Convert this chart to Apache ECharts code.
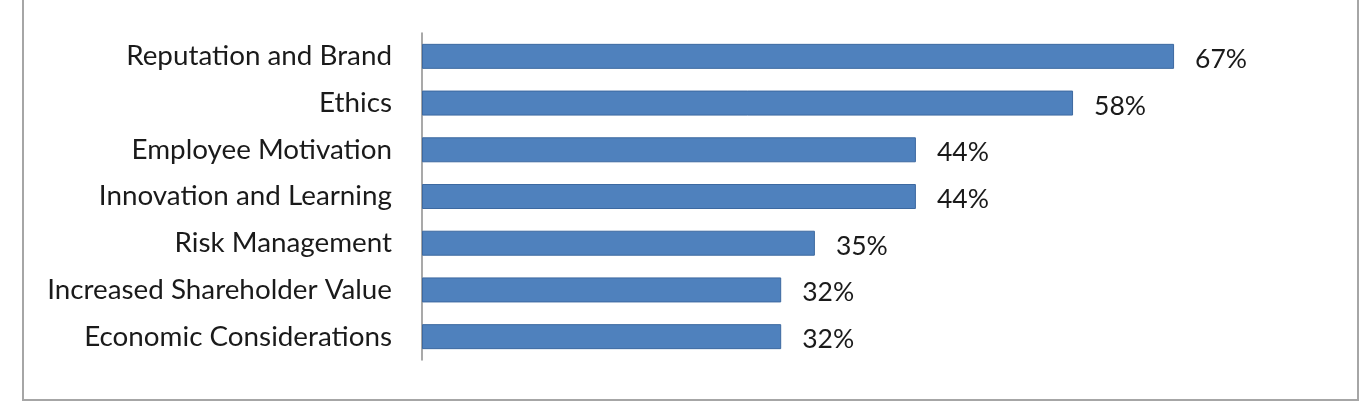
<!DOCTYPE html>
<html lang="en">
<head>
    <meta charset="utf-8">
    <title>Chart</title>
    <style>
        html, body { margin: 0; padding: 0; background: #fff; }
    </style>
</head>
<body>
<div id="main" style="width: 1370px;height: 405px"></div>

<script src="https://cdn.jsdelivr.net/npm/echarts@6/dist/echarts.min.js"></script>
<script type="text/javascript">
    // categories top to bottom
    var categories = ['Reputation and Brand', 'Ethics', 'Employee Motivation', 'Innovation and Learning',
        'Risk Management', 'Increased Shareholder Value', 'Economic Considerations'];
    var values = [67, 58, 44, 44, 35, 32, 32];

    var myChart = echarts.init(document.getElementById('main'));

    var option = {
        animation: false,
        textStyle: { fontFamily: 'Lato' },
        graphic: [{
            type: 'rect',
            shape: { x: 23, y: -10, width: 1335, height: 410 },
            style: { fill: 'none', stroke: '#a6a6a6', lineWidth: 2 }
        }],
        grid: {
            left: 422,
            right: 50,
            top: 33,
            bottom: 45
        },
        xAxis: {
            type: 'value',
            min: 0,
            max: 80,
            show: false
        },
        yAxis: {
            type: 'category',
            inverse: true,
            data: categories,
            axisLine: { lineStyle: { color: '#8c8c8c', width: 1.5 } },
            axisTick: { show: false },
            axisLabel: { color: '#1a1a1a', fontSize: 27.8, margin: 30, padding: [5, 0, 0, 0] }
        },
        series: [{
            type: 'bar',
            data: values,
            barWidth: 25,
            itemStyle: { color: '#4f81bd', borderColor: '#3d69a0', borderWidth: 1 },
            label: {
                show: true,
                position: 'right',
                distance: 21,
                formatter: '{c}%',
                color: '#1a1a1a',
                fontSize: 26.5,
                offset: [0, 3]
            }
        }]
    };
    myChart.setOption(option);
</script>
</body>
</html>
